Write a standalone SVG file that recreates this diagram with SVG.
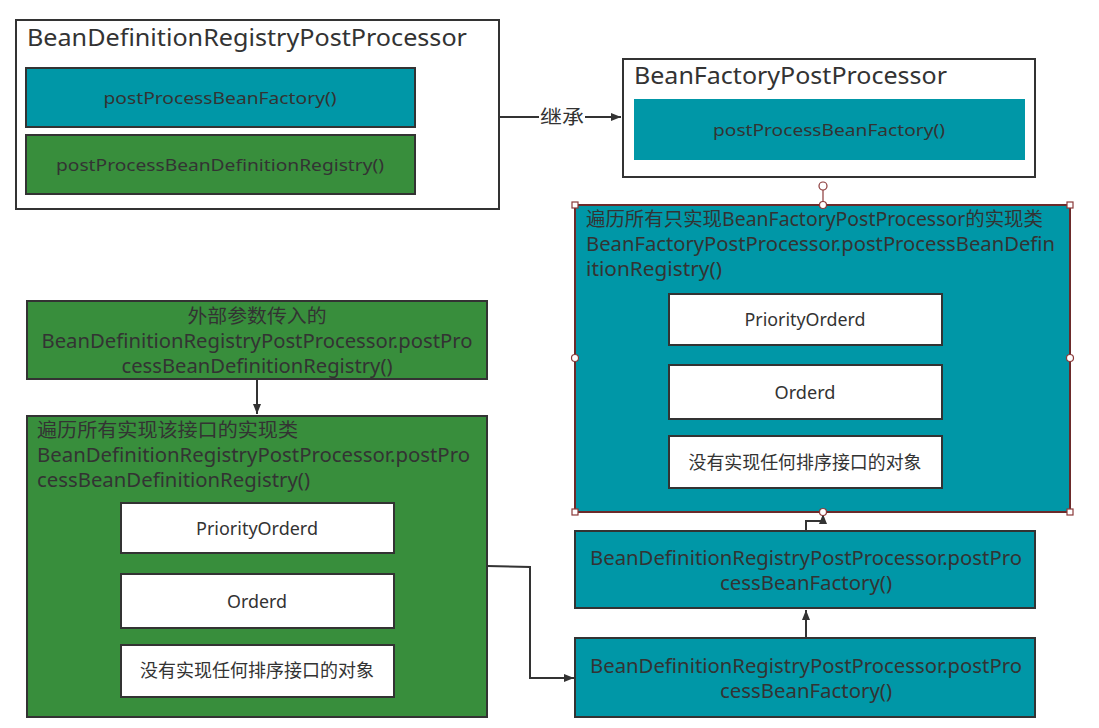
<svg xmlns="http://www.w3.org/2000/svg" width="1099" height="728" viewBox="0 0 1099 728">
<defs>
<style>
text{font-family:"Noto Sans","Noto Sans CJK SC",sans-serif;fill:#333;}
.t24{font-size:24px;}
.t20{font-size:19px;}
.t17{font-size:17px;}
.t18{font-size:18.5px;}
.c{text-anchor:middle;}
.box{stroke:#333;stroke-width:2;}
.teal{fill:#0097a7;}
.green{fill:#388e3c;}
.white{fill:#fff;}
.edge{fill:none;stroke:#333;stroke-width:2;}
.h{fill:#fff;stroke:#8b3a3a;stroke-width:1.2;}
</style>
<marker id="arr" viewBox="0 0 10 10" refX="10" refY="5" markerWidth="10" markerHeight="10" markerUnits="userSpaceOnUse" orient="auto"><path d="M0,1 L10,5 L0,9 z" fill="#333"/></marker>
</defs>
<rect width="1099" height="728" fill="#fff"/>

<g id="node-bdrpp">
<rect class="box white" x="16" y="20" width="483" height="189"/>
<text class="t24" x="27" y="46" textLength="440" lengthAdjust="spacingAndGlyphs">BeanDefinitionRegistryPostProcessor</text>
<rect class="box teal" x="26" y="68" width="389" height="59"/>
<text class="t17 c" x="220" y="104" textLength="233" lengthAdjust="spacingAndGlyphs">postProcessBeanFactory()</text>
<rect class="box green" x="26" y="135" width="389" height="59"/>
<text class="t17 c" x="220" y="171" textLength="328" lengthAdjust="spacingAndGlyphs">postProcessBeanDefinitionRegistry()</text>
</g>

<g id="node-bfpp">
<rect class="box white" x="623" y="59" width="412" height="118"/>
<text class="t24" x="634" y="84" textLength="313" lengthAdjust="spacingAndGlyphs">BeanFactoryPostProcessor</text>
<rect class="teal" x="634" y="99" width="391" height="61"/>
<text class="t17 c" x="829" y="136" textLength="232" lengthAdjust="spacingAndGlyphs">postProcessBeanFactory()</text>
</g>

<g id="node-bfpp-loop">
<rect class="teal" x="575" y="205" width="495" height="307" stroke="#6b2a2a" stroke-width="2"/>
<text class="t20" x="586" y="226" textLength="457" lengthAdjust="spacingAndGlyphs">遍历所有只实现BeanFactoryPostProcessor的实现类</text>
<text class="t20" x="586" y="251" textLength="469" lengthAdjust="spacingAndGlyphs">BeanFactoryPostProcessor.postProcessBeanDefin</text>
<text class="t20" x="586" y="276" textLength="136" lengthAdjust="spacingAndGlyphs">itionRegistry()</text>
<rect class="box white" x="669" y="294" width="273" height="51"/>
<text class="t18 c" x="805" y="326" textLength="121" lengthAdjust="spacingAndGlyphs">PriorityOrderd</text>
<rect class="box white" x="669" y="365" width="273" height="54"/>
<text class="t18 c" x="805" y="399" textLength="61" lengthAdjust="spacingAndGlyphs">Orderd</text>
<rect class="box white" x="669" y="436" width="273" height="52"/>
<text class="t18 c" x="805" y="469" textLength="233" lengthAdjust="spacingAndGlyphs">没有实现任何排序接口的对象</text>
</g>

<g id="node-external">
<rect class="box green" x="27" y="301" width="460" height="78"/>
<text class="t20 c" x="257" y="323" textLength="139" lengthAdjust="spacingAndGlyphs">外部参数传入的</text>
<text class="t20 c" x="257" y="348" textLength="431" lengthAdjust="spacingAndGlyphs">BeanDefinitionRegistryPostProcessor.postPro</text>
<text class="t20 c" x="257" y="373" textLength="271" lengthAdjust="spacingAndGlyphs">cessBeanDefinitionRegistry()</text>
</g>

<g id="node-bdrpp-loop">
<rect class="box green" x="27" y="416" width="460" height="301"/>
<text class="t20" x="37" y="437" textLength="261" lengthAdjust="spacingAndGlyphs">遍历所有实现该接口的实现类</text>
<text class="t20" x="37" y="462" textLength="433" lengthAdjust="spacingAndGlyphs">BeanDefinitionRegistryPostProcessor.postPro</text>
<text class="t20" x="37" y="487" textLength="273" lengthAdjust="spacingAndGlyphs">cessBeanDefinitionRegistry()</text>
<rect class="box white" x="121" y="503" width="273" height="50"/>
<text class="t18 c" x="257" y="535" textLength="122" lengthAdjust="spacingAndGlyphs">PriorityOrderd</text>
<rect class="box white" x="121" y="574" width="273" height="54"/>
<text class="t18 c" x="257" y="608" textLength="60" lengthAdjust="spacingAndGlyphs">Orderd</text>
<rect class="box white" x="121" y="645" width="273" height="52"/>
<text class="t18 c" x="257" y="677" textLength="234" lengthAdjust="spacingAndGlyphs">没有实现任何排序接口的对象</text>
</g>

<g id="node-bf-1">
<rect class="box teal" x="575" y="531" width="460" height="77"/>
<text class="t20 c" x="806" y="565" textLength="432" lengthAdjust="spacingAndGlyphs">BeanDefinitionRegistryPostProcessor.postPro</text>
<text class="t20 c" x="806" y="590" textLength="172" lengthAdjust="spacingAndGlyphs">cessBeanFactory()</text>
</g>

<g id="node-bf-2">
<rect class="box teal" x="575" y="638" width="460" height="79"/>
<text class="t20 c" x="806" y="673" textLength="432" lengthAdjust="spacingAndGlyphs">BeanDefinitionRegistryPostProcessor.postPro</text>
<text class="t20 c" x="806" y="698" textLength="172" lengthAdjust="spacingAndGlyphs">cessBeanFactory()</text>
</g>

<g id="connectors">
<path class="edge" d="M499,117 L621,117" marker-end="url(#arr)"/>
<rect x="539" y="105" width="46" height="24" fill="#fff"/>
<text class="t20" x="540" y="124" textLength="44" lengthAdjust="spacingAndGlyphs">继承</text>
<path class="edge" d="M257,379 L257,414" marker-end="url(#arr)"/>
<path class="edge" d="M487,566 L530,567 L530,678 L574,678" marker-end="url(#arr)"/>
<path class="edge" d="M806,638 L806,610" marker-end="url(#arr)"/>
<path class="edge" d="M806,531 L806,521 L823,521 L823,514" marker-end="url(#arr)"/>
</g>

<g id="selection-handles">
<line x1="823" y1="190" x2="823" y2="205" stroke="#8b3a3a" stroke-width="1.2"/>
<circle class="h" cx="823" cy="186" r="4"/>
<rect class="h" x="572" y="202" width="6" height="6"/>
<rect class="h" x="1067" y="202" width="6" height="6"/>
<rect class="h" x="572" y="509" width="6" height="6"/>
<rect class="h" x="1067" y="509" width="6" height="6"/>
<circle class="h" cx="823" cy="205" r="3.5"/>
<circle class="h" cx="575" cy="358" r="3.5"/>
<circle class="h" cx="1070" cy="358" r="3.5"/>
<circle class="h" cx="823" cy="512" r="3.5"/>
</g>
</svg>
